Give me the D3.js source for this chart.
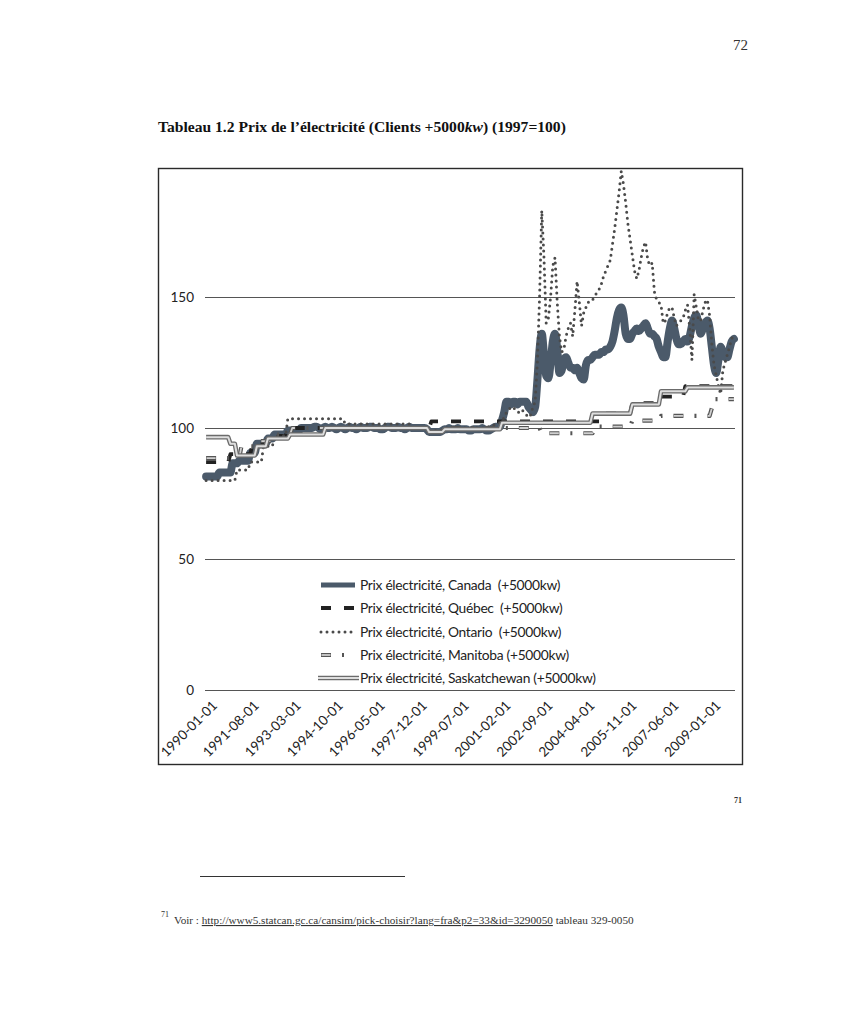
<!DOCTYPE html>
<html><head><meta charset="utf-8">
<script src="https://cdn.jsdelivr.net/npm/d3@7"></script>
<style>body{margin:0;background:#fff}text{white-space:pre}</style>
</head><body>
<svg id="c" width="857" height="1025"></svg>
<script>
// ---------- DATA (monthly, 1990-01 .. 2009-12, one row per year) ----------
const tickLabels = ["1990-01-01","1991-08-01","1993-03-01","1994-10-01","1996-05-01","1997-12-01","1999-07-01","2001-02-01","2002-09-01","2004-04-01","2005-11-01","2007-06-01","2009-01-01"];
const yTicks = [0, 50, 100, 150];
const legendLabels = ["Prix électricité, Canada  (+5000kw)","Prix électricité, Québec  (+5000kw)","Prix électricité, Ontario  (+5000kw)","Prix électricité, Manitoba (+5000kw)","Prix électricité, Saskatchewan (+5000kw)"];

const canada = [
 [81.5,81.5,81.5,81.5,81.5,81.5,83,83,83,83,83,83],
 [86.5,86.5,86.5,87.5,87.5,87.5,87.5,87.5,90.5,90.5,90.5,94],
 [94,94,94,94,96,96,96,97.5,97.5,97.5,97.5,97.5],
 [97.5,99,99,99,99,99,99,100,100,100,100,100],
 [100,100.5,100.5,100,99.5,100,100.5,100,100,100.5,100,99.5],
 [100,100.5,100,99.5,100,100.5,100,100,99.5,100,100.5,100],
 [100,100,100.5,100.5,100,100,100,99.5,99.5,100,100.5,100.5],
 [100,100,100,100.5,100,100,99.5,100,100.5,100,100,100],
 [100,100,100,100,99.5,98.5,98.5,98.5,98.5,98.5,98.5,99],
 [99.5,99.5,100,99.5,99.5,99.5,100,99.5,99.5,99.5,99.5,99],
 [99,99.5,99.5,99.5,99.5,100,99.5,99,99,99.5,100,100.5],
 [100.5,100.5,103,106,110,110,109,110,110,109,110,110],
 [110,110,108,107,106,108,118,130,136,128,120,119],
 [125,133,136,130,121,122,126,127,125,123,123,122],
 [123,121,119,118.5,124,126,126,127,128,128,128,129],
 [129,130,130,131,133,137,142,145,146,143,136,134],
 [134,136,137,138,137,138,139,140,138,136,136,135],
 [134,131,129,127,127,133,138,141,138,134,132,132],
 [133,134,133,135,139,142,143,139,136,138,140,141],
 [138,131,124,121,126,131,129,127,127,130,133,134]
].flat();

const quebec = [
 [87,87,87,87,87,87,87,87,87,87,87,90],
 [90,90,90,90,90,90,90,90,90,94,94,94],
 [94,94,94,94,97,97,97,97,97,97,97,97],
 [97,100,100,100,100,100,100,100,100,100,100,100],
 [100,100,100,100,100,100,100,100,100,100,100,100],
 [100,100,100,100,100,100,100,100,100,100,100,100],
 [100,100,100,100,100,100,100,100,100,100,100,100],
 [100,100,100,100,100,100,100,100,100,100,100,100],
 [100,100,100,100,100,100,102.5,102.5,102.5,102.5,102.5,102.5],
 [102.5,102.5,102.5,102.5,102.5,102.5,102.5,102.5,102.5,102.5,102.5,102.5],
 [102.5,102.5,102.5,102.5,102.5,102.5,102.5,102.5,102.5,102.5,102.5,102.5],
 [102.5,102.5,102.5,102.5,102.5,102.5,102.5,102.5,102.5,102.5,102.5,102.5],
 [102.5,102.5,102.5,102.5,102.5,102.5,102.5,102.5,102.5,102.5,102.5,102.5],
 [102.5,102.5,102.5,102.5,102.5,102.5,102.5,102.5,102.5,102.5,102.5,102.5],
 [102.5,102.5,102.5,102.5,102.5,102.5,102.5,102.5,102.5,102.5,102.5,102.5],
 [102.5,105.5,105.5,105.5,105.5,105.5,105.5,105.5,105.5,105.5,105.5,105.5],
 [105.5,109.5,109.5,109.5,109.5,109.5,109.5,109.5,109.5,109.5,109.5,109.5],
 [109.5,109.5,112,112,112,112,112,112,112,112,112,112],
 [112,116,116,116,116,116,116,116,116,116,116,116],
 [116,116,116,116,116,116,116,116,116,116,116,116]
].flat();

const ontario = [
 [80,80,80,80,80,80,80,80,80,80,80,80],
 [80,80,84,84,84,84,84,84,87,87,87,87],
 [87,87,93,93,93,93,93,97,97,97,97,97],
 [97,103.5,103.5,103.5,103.5,103.5,103.5,103.5,103.5,103.5,103.5,103.5],
 [103.5,103.5,103.5,103.5,103.5,103.5,103.5,103.5,103.5,103.5,103.5,103.5],
 [103.5,103.5,103.5,101.5,101.5,101.5,101.5,101.5,101.5,101.5,101.5,101.5],
 [101.5,101.5,101.5,101.5,101.5,101.5,101.5,101.5,101.5,101.5,101.5,101.5],
 [101.5,101.5,101.5,101.5,101.5,101.5,101.5,101.5,101.5,101.5,100,100],
 [100,100,100,100,100,99,99,99,99,99,99,99.5],
 [100,100,100,100,100,100,100,100,100,100,100,100],
 [100,100,100,100,100,100,100,100.5,100.5,101,101,101.5],
 [102,102,103,104,106,107,108,108,107,106,106,107],
 [106,105,104,105,108,110,125,150,183,165,140,142],
 [150,162,165,148,135,129,130,135,138,140,135,145],
 [156,148,139,144,146,148,148,149,150,152,153,155],
 [158,160,162,164,170,176,183,190,198,193,186,178],
 [172,166,160,157,160,165,169,171,164,162,163,152],
 [149,148,147,140,141,144,146,146,142,139,140,141],
 [142,145,147,138,126,151,146,141,141,145,148,149],
 [143,132,124,120,116,113,122,125,128,131,134,136]
].flat();

const manitoba = [
 [88.5,88.5,88.5,88.5,88.5,88.5,88.5,88.5,88.5,88.5,88.5,88.5],
 [88.5,88.5,88.5,88.5,93,93,93,93,93,93,93,95],
 [95,95,95,95,95,95,95,97.5,97.5,97.5,97.5,97.5],
 [97.5,97.5,97.5,100,100,100,100,100,100,100,100,100],
 [100,100,100,100,100,100,100,100,100,100,100,100],
 [100,100,100,100,100,100,100,100,100,100,100,100],
 [100,100,100,100,100,100,100,100,100,100,100,100],
 [100,100,100,100,100,100,100,100,100,100,100,100],
 [100,100,100,100,100,98.5,98.5,98.5,98.5,98.5,98.5,98.5],
 [98.5,100,100,100,100,100,100,100,100,100,100,100],
 [100,100,100,100,100,100,100,100,100,100,100,100],
 [100,100,100,100,100,100,100,100,100,100,100,100],
 [100,100,100,100,100,100,100,100,98,98,98,98],
 [98,98,98,98,98,98,98,98,98,98,98,98],
 [98,98,98,98,98,98,98,98,100.5,100.5,100.5,100.5],
 [100.5,100.5,100.5,100.5,100.5,100.5,100.5,100.5,100.5,100.5,100.5,100.5],
 [100.5,102.8,102.8,102.8,102.8,102.8,102.8,102.8,102.8,102.8,102.8,102.8],
 [102.8,102.8,104.6,104.6,104.6,104.6,104.6,104.6,104.6,104.6,104.6,104.6],
 [104.6,104.6,104.6,104.6,104.6,104.6,104.6,104.6,104.6,104.6,104.6,104.6],
 [104.6,107.5,111,111,111,111,111,111,111,111,111,111]
].flat();

const saskatchewan = [
 [96.5,96.5,96.5,96.5,96.5,96.5,96.5,96.5,96.5,96.5,96.5,94],
 [94,94,89.5,89.5,89.5,89.5,89.5,89.5,89.5,89.5,89.5,93],
 [93,93,93,93,96,96,96,96,96,96,96,96],
 [96,96,97.5,97.5,97.5,97.5,97.5,97.5,97.5,97.5,97.5,97.5],
 [97.5,97.5,97.5,97.5,97.5,97.5,100,100,100,100,100,100],
 [100,100,100,100,100,100,100,100,100,100,100,100],
 [100,100,100,100,100,100,100,100,100,100,100,100],
 [100,100,100,100,100,100,100,100,100,100,100,100],
 [100,100,100,100,100,98.5,98.5,98.5,98.5,98.5,98.5,98.5],
 [99.5,99.5,99.5,99.5,99.5,99.5,99.5,99.5,99.5,99.5,99.5,99.5],
 [99.5,99.5,99.5,99.5,99.5,99.5,99.5,99.5,99.5,99.5,99.5,99.5],
 [99.5,99.5,102,102,102,102,102,102,102,102,102,102],
 [102,102,102,102,102,102,102,102,102,102,102,102],
 [102,102,102,102,102,102,102,102,102,102,102,102],
 [102,102,102,102,102,102,102,105.5,105.5,105.5,105.5,105.5],
 [105.5,105.5,105.5,105.5,105.5,105.5,105.5,105.5,105.5,105.5,105.5,105.5],
 [105.5,109,109,109,109,109,109,109,109,109,109,109],
 [109,109,114,114,114,114,114,114,114,114,114,114],
 [114,114,115.5,115.5,115.5,115.5,115.5,115.5,115.5,115.5,115.5,115.5],
 [115.5,115.5,115.5,115.5,115.5,115.5,115.5,115.5,115.5,115.5,115.5,115.5]
].flat();

// ---------- CHART ----------
const months = d3.timeMonth.range(new Date(1990,0,1), new Date(2010,0,1)).map(d3.timeFormat("%Y-%m-%d"));
const svg = d3.select("#c");
const serif = "'Liberation Serif','Times New Roman',serif";
const sans = "Lato,'Open Sans',sans-serif";

// page text
svg.append("text").attr("x",733).attr("y",50).attr("font-family",serif).attr("font-size",15).attr("fill","#333").text("72");
const title = svg.append("text").attr("x",158).attr("y",132).attr("font-family",serif).attr("font-size",15.6).attr("font-weight","bold").attr("fill","#111");
title.append("tspan").text("Tableau 1.2 Prix de l’électricité (Clients +5000");
title.append("tspan").attr("font-style","italic").text("kw");
title.append("tspan").text(") (1997=100)");

const x = d3.scalePoint().domain(months).range([205,735]).padding(0.5);
const y = d3.scaleLinear().domain([0,200]).range([690,166]);

svg.append("rect").attr("x",158.5).attr("y",168.5).attr("width",584).attr("height",596)
  .attr("fill","none").attr("stroke","#2a2a2a").attr("stroke-width",1.4);

const gy = svg.append("g").attr("transform","translate(205,0)")
  .call(d3.axisLeft(y).tickValues(yTicks).tickSize(-530).tickPadding(11).tickFormat(d3.format("d")));
gy.select(".domain").remove();
gy.selectAll(".tick line").attr("stroke","#555").attr("stroke-width",1);
gy.selectAll("text").attr("font-family",sans).attr("font-size",13.5).attr("fill","#222");

const gx = svg.append("g").attr("transform","translate(0,690)")
  .call(d3.axisBottom(x).tickValues(tickLabels).tickSize(0).tickPadding(0));
gx.select(".domain").remove();
gx.selectAll("text").attr("x",0).attr("y",0).attr("dy","0.35em")
  .attr("transform","translate(8,13) rotate(-45)").style("text-anchor","end")
  .attr("font-family",sans).attr("font-size",13.5).attr("fill","#222");

svg.append("clipPath").attr("id","clip").append("rect").attr("x",159).attr("y",169).attr("width",583).attr("height",595);
const plot = svg.append("g").attr("clip-path","url(#clip)");

const lineLin = d3.line().x((d,i)=>x(months[i])).y(d=>y(d));
const lineSm = d3.line().x((d,i)=>x(months[i])).y(d=>y(d)).curve(d3.curveMonotoneX);

const styles = [
  [{stroke:"#4b5a6a", w:8, dash:null, cap:"round"}],
  [{stroke:"#222", w:3.8, dash:"10,13", cap:"butt"}],
  [{stroke:"#4a4a4a", w:3, dash:"0,6", cap:"round"}],
  [{stroke:"#555", w:4.2, dash:"10,11,2,11", cap:"butt"},{stroke:"#cfcfcf", w:1.8, dash:"9,25", off:-0.5, cap:"butt"}],
  [{stroke:"#6b6b6b", w:4.6, dash:null, cap:"butt"},{stroke:"#dedede", w:2, dash:null, cap:"butt"}]
];
const seriesData = [canada, quebec, ontario, manitoba, saskatchewan];

seriesData.forEach((s,k)=>{
  const gen = k===0 ? lineSm : lineLin;
  styles[k].forEach(st=>{
    plot.append("path").attr("d",gen(s)).attr("fill","none").attr("stroke",st.stroke)
      .attr("stroke-width",st.w).attr("stroke-linejoin","round").attr("stroke-linecap",st.cap)
      .attr("stroke-dasharray",st.dash).attr("stroke-dashoffset",st.off||0);
  });
});

// legend
const legY = [585, 608, 632, 655, 678];
const leg = svg.append("g");
legendLabels.forEach((lab,k)=>{
  const x0 = k===4 ? 318 : 321, x1 = k===4 ? 359 : 355;
  styles[k].forEach(st=>{
    leg.append("line").attr("x1",x0).attr("x2",x1).attr("y1",legY[k]).attr("y2",legY[k])
      .attr("stroke",st.stroke).attr("stroke-width",k===0?5:st.w).attr("stroke-linecap",k===0?"butt":st.cap)
      .attr("stroke-dasharray",st.dash).attr("stroke-dashoffset",st.off||0);
  });
  leg.append("text").attr("x",360).attr("y",legY[k]).attr("dy","0.35em")
    .attr("font-family",sans).attr("font-size",13.8).attr("letter-spacing",-0.3).attr("fill","#222").text(lab);
});

// footnotes
svg.append("text").attr("x",734).attr("y",803).attr("font-family",serif).attr("font-size",8).attr("font-weight","bold").attr("fill","#333").text("71");
svg.append("line").attr("x1",200).attr("x2",405).attr("y1",876.5).attr("y2",876.5).attr("stroke","#333").attr("stroke-width",1.2);
svg.append("text").attr("x",161).attr("y",917).attr("font-family",serif).attr("font-size",8).attr("fill","#333").text("71");
const fn = svg.append("text").attr("x",174).attr("y",924).attr("font-family",serif).attr("font-size",11.2).attr("fill","#333");
fn.append("tspan").text("Voir : ");
fn.append("tspan").attr("text-decoration","underline").text("http://www5.statcan.gc.ca/cansim/pick-choisir?lang=fra&p2=33&id=3290050");
fn.append("tspan").text(" tableau 329-0050");
</script>
</body></html>
